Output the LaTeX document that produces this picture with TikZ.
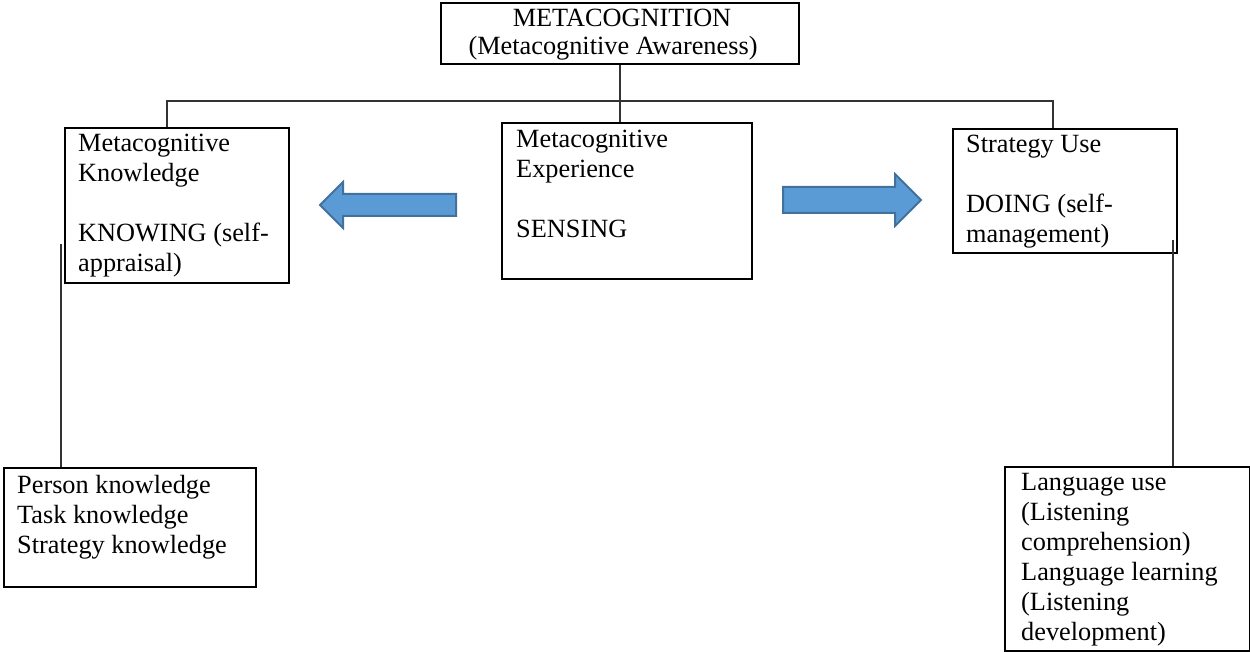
\documentclass[tikz,border=0pt]{standalone}
\usepackage{fontspec}
\setmainfont{Liberation Serif}
\definecolor{arrowfill}{HTML}{5B9BD5}
\definecolor{arrowline}{HTML}{41719C}
\definecolor{connc}{HTML}{333333}
\newcommand\boxlines[1]{\parbox[t]{400pt}{\raggedright #1}}
\begin{document}
\begin{tikzpicture}[x=1pt,y=-1pt,
  box/.style={draw=black, line width=2.2pt, rectangle, inner sep=0pt, anchor=north west},
  conn/.style={draw=connc, line width=1.3pt},
  txt/.style={anchor=base west, inner sep=0pt, font=\fontsize{26.3}{30}\selectfont},
  bigarrow/.style={fill=arrowfill, draw=arrowline, line width=2pt, line join=miter}]
\useasboundingbox (0,0) rectangle (1250,652);
% boxes
\node[box, minimum width=358pt, minimum height=61pt] (top) at (440,2) {};
\node[box, minimum width=224pt, minimum height=155pt] (mk) at (64,127) {};
\node[box, minimum width=250pt, minimum height=156pt] (me) at (501,122) {};
\node[box, minimum width=224pt, minimum height=124pt] (su) at (952,128) {};
\node[box, minimum width=252pt, minimum height=119pt] (pk) at (3,467) {};
\node[box, minimum width=245pt, minimum height=184pt] (lu) at (1004,466) {};
% texts
\node[txt, anchor=base] (t1) at (622,27) {METACOGNITION};
\node[txt, anchor=base] (t2) at (613,55) {(Metacognitive Awareness)};
\node[txt] (t3) at (78,152) {\boxlines{Metacognitive\\Knowledge\\[30pt]KNOWING (self-\\appraisal)}};
\node[txt] (t4) at (516,148) {\boxlines{Metacognitive\\Experience\\[30pt]SENSING}};
\node[txt] (t5) at (966,153) {\boxlines{Strategy Use\\[30pt]DOING (self-\\management)}};
\node[txt] (t6) at (17,493) {\boxlines{Person knowledge\\Task knowledge\\Strategy knowledge}};
\node[txt] (t7) at (1021,490) {\boxlines{Language use\\(Listening\\comprehension)\\Language learning\\(Listening\\development)}};
% connectors
\coordinate (hl) at (167,101);
\coordinate (hr) at (1053,101);
\coordinate (lv) at (61,244);
\coordinate (rv) at (1173,240);
\draw[conn] (top.south) -- (top.south |- me.north);
\draw[conn] (hl |- mk.north) -- (hl) -- (hr) -- (hr |- su.north);
\draw[conn] (lv) -- (lv |- pk.north);
\draw[conn] (rv) -- (rv |- lu.north);
% block arrows
\draw[bigarrow] (456,194) -- (343,194) -- (343,182) -- (320,205) -- (343,228) -- (343,216) -- (456,216) -- cycle;
\draw[bigarrow] (783,187) -- (895,187) -- (895,174) -- (921,200) -- (895,226) -- (895,213) -- (783,213) -- cycle;
\end{tikzpicture}
\end{document}
